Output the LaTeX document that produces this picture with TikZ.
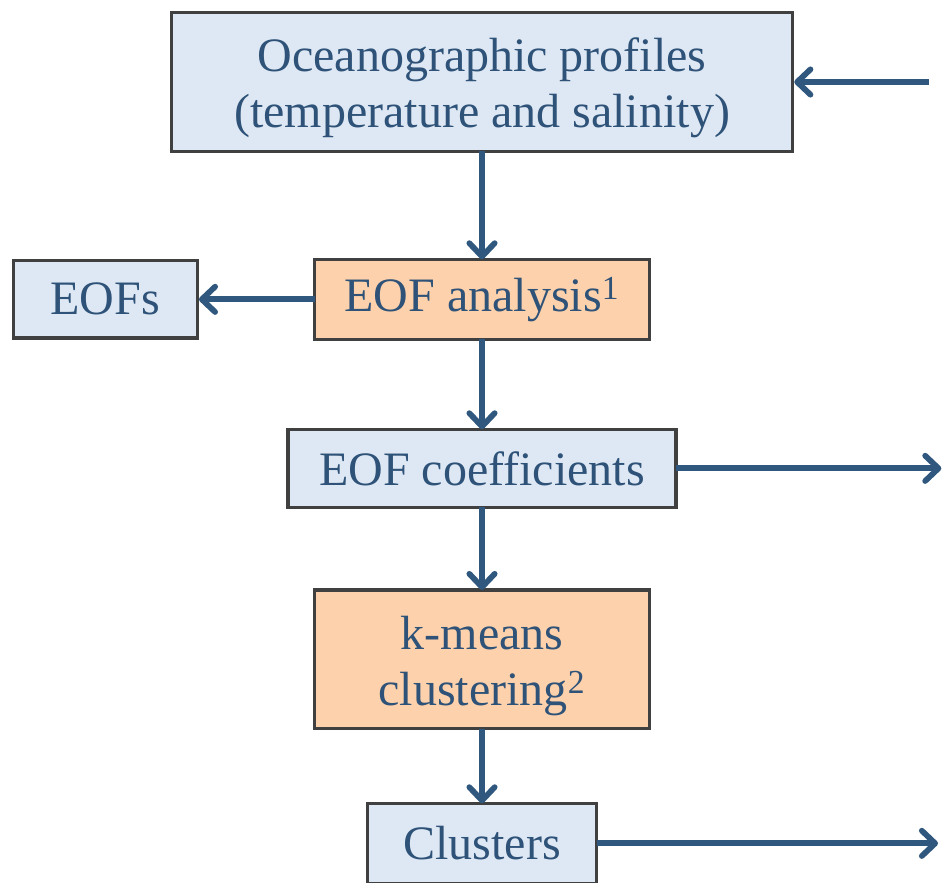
\documentclass[tikz,border=0pt]{standalone}
\usepackage{fontspec}
\setmainfont{Liberation Serif}
\usepackage{tikz}
\usetikzlibrary{arrows.meta, positioning, calc}
\usepackage{xcolor}

\definecolor{textblue}{HTML}{2E5278}
\definecolor{arrowblue}{HTML}{30577E}
\definecolor{boxblue}{HTML}{DEE8F4}
\definecolor{boxpeach}{HTML}{FDD1AB}

\newcommand{\twolines}[2]{\raisebox{-5pt}[\height][\depth]{\begin{tabular}{@{}c@{}}#1\\#2\end{tabular}}}

\begin{document}
\begin{tikzpicture}[
  font=\fontsize{36}{42}\selectfont,
  >={Straight Barb[length=10pt, width=19pt, round]},
  data/.style={
    rectangle, draw=black!75, line width=2.4pt, outer sep=0pt,
    fill=boxblue, text=textblue, align=center, inner sep=0pt
  },
  method/.style={
    rectangle, draw=black!75, line width=2.4pt, outer sep=0pt,
    fill=boxpeach, text=textblue, align=center, inner sep=0pt
  },
  flow/.style={->, line width=4.3pt, color=arrowblue}
]
\useasboundingbox (0,0) rectangle (708pt,-661.5pt);

% Boxes
\node[data, minimum width=466pt, minimum height=104pt] (profiles) at (361.5pt,-61.5pt)
  {\twolines{Oceanographic profiles}{(temperature and salinity)}};
\node[method, minimum width=251pt, minimum height=60pt, below=81pt of profiles] (eofana)
  {EOF analysis\textsuperscript{1}};
\node[data, minimum width=138pt, minimum height=58pt, left=88pt of eofana] (eofs) {EOFs};
\node[data, minimum width=291pt, minimum height=58.5pt, below=67.5pt of eofana] (coeffs)
  {EOF coefficients};
\node[method, minimum width=251pt, minimum height=104pt, below=62pt of coeffs] (kmeans)
  {\twolines{k-means}{clustering\textsuperscript{2}}};
\node[data, minimum width=172pt, minimum height=60pt, below=56pt of kmeans] (clusters)
  {Clusters};

% Free ends
\coordinate (feed) at ([xshift=102pt]profiles.east);
\coordinate (coeffsout) at ([xshift=199pt]coeffs.east);
\coordinate (clustersout) at ([xshift=256pt]clusters.east);

% Flow arrows
\draw[flow] (feed) -- ([xshift=1.2pt]profiles.east);
\draw[flow] (profiles) -- (eofana);
\draw[flow] (eofana) -- ([xshift=1.2pt]eofs.east);
\draw[flow] (eofana) -- (coeffs);
\draw[flow] (coeffs) -- (coeffsout);
\draw[flow] (coeffs) -- (kmeans);
\draw[flow] (kmeans) -- (clusters);
\draw[flow] (clusters) -- (clustersout);

\end{tikzpicture}
\end{document}
